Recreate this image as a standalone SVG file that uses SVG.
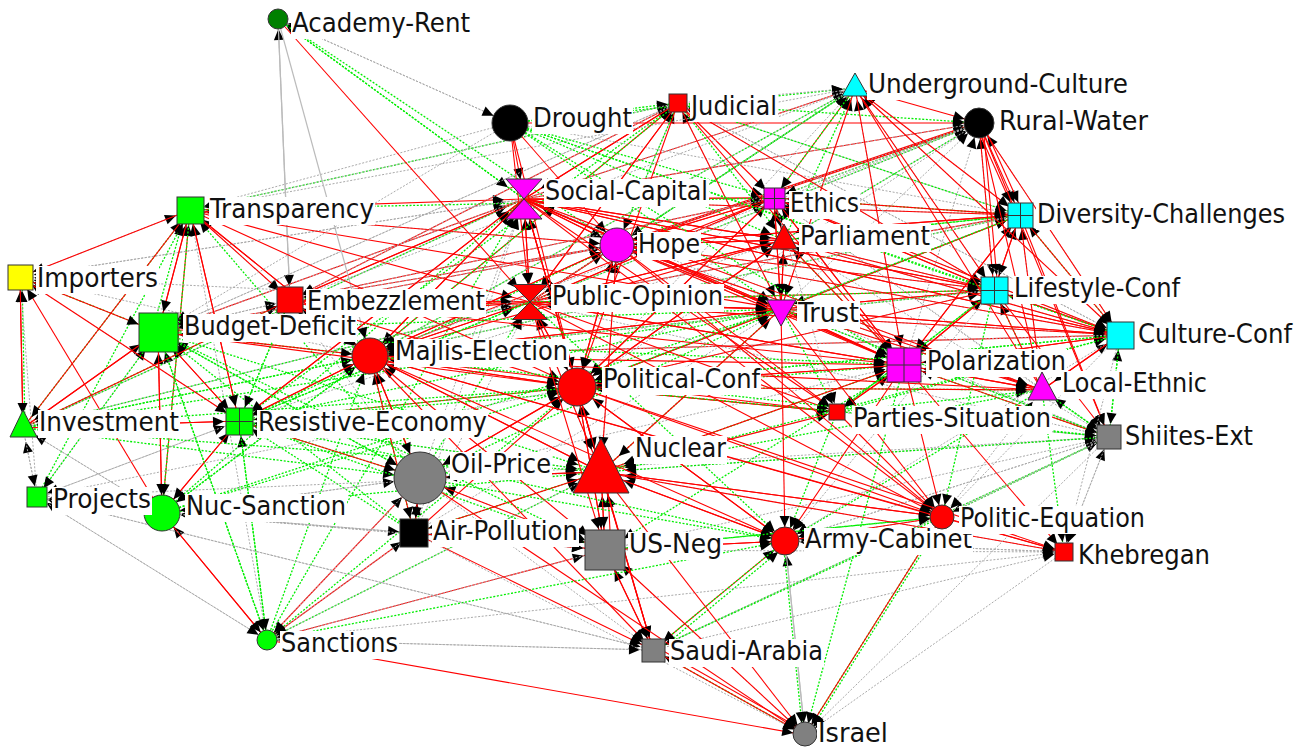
<svg xmlns="http://www.w3.org/2000/svg" width="1302" height="749" viewBox="0 0 1302 749">
<style>
.r{stroke:#f00;stroke-width:1.1;fill:none}
.g{stroke:#0e0;stroke-width:1.3;stroke-dasharray:2 1.6;fill:none}
.y{stroke:#aaa;stroke-width:1;stroke-dasharray:2 1.6;fill:none}
.s{stroke:#bbb;stroke-width:1.2;fill:none}
.n{stroke:#333;stroke-width:1}
.gl{stroke:#333;stroke-width:1;fill:none}
.lb{fill:#fff}
text{font-family:"DejaVu Sans Condensed","DejaVu Sans",sans-serif;font-size:27px;fill:#111}
marker path{fill:#000;stroke:none}
</style>
<defs>
<marker id="m9" markerUnits="userSpaceOnUse" orient="auto" overflow="visible" markerWidth="1" markerHeight="1"><path d="M-9 0l-11-5v10z"/></marker>
<marker id="m10" markerUnits="userSpaceOnUse" orient="auto" overflow="visible" markerWidth="1" markerHeight="1"><path d="M-10 0l-11-5v10z"/></marker>
<marker id="m11" markerUnits="userSpaceOnUse" orient="auto" overflow="visible" markerWidth="1" markerHeight="1"><path d="M-11 0l-11-5v10z"/></marker>
<marker id="m12" markerUnits="userSpaceOnUse" orient="auto" overflow="visible" markerWidth="1" markerHeight="1"><path d="M-12 0l-11-5v10z"/></marker>
<marker id="m13" markerUnits="userSpaceOnUse" orient="auto" overflow="visible" markerWidth="1" markerHeight="1"><path d="M-13 0l-11-5v10z"/></marker>
<marker id="m14" markerUnits="userSpaceOnUse" orient="auto" overflow="visible" markerWidth="1" markerHeight="1"><path d="M-14 0l-11-5v10z"/></marker>
<marker id="m15" markerUnits="userSpaceOnUse" orient="auto" overflow="visible" markerWidth="1" markerHeight="1"><path d="M-15 0l-11-5v10z"/></marker>
<marker id="m17" markerUnits="userSpaceOnUse" orient="auto" overflow="visible" markerWidth="1" markerHeight="1"><path d="M-17 0l-11-5v10z"/></marker>
<marker id="m18" markerUnits="userSpaceOnUse" orient="auto" overflow="visible" markerWidth="1" markerHeight="1"><path d="M-18 0l-11-5v10z"/></marker>
<marker id="m19" markerUnits="userSpaceOnUse" orient="auto" overflow="visible" markerWidth="1" markerHeight="1"><path d="M-19 0l-11-5v10z"/></marker>
<marker id="m20" markerUnits="userSpaceOnUse" orient="auto" overflow="visible" markerWidth="1" markerHeight="1"><path d="M-20 0l-11-5v10z"/></marker>
<marker id="m21" markerUnits="userSpaceOnUse" orient="auto" overflow="visible" markerWidth="1" markerHeight="1"><path d="M-21 0l-11-5v10z"/></marker>
<marker id="m22" markerUnits="userSpaceOnUse" orient="auto" overflow="visible" markerWidth="1" markerHeight="1"><path d="M-22 0l-11-5v10z"/></marker>
<marker id="m24" markerUnits="userSpaceOnUse" orient="auto" overflow="visible" markerWidth="1" markerHeight="1"><path d="M-24 0l-11-5v10z"/></marker>
<marker id="m26" markerUnits="userSpaceOnUse" orient="auto" overflow="visible" markerWidth="1" markerHeight="1"><path d="M-26 0l-11-5v10z"/></marker>
</defs>
<rect width="1302" height="749" fill="#fff"/>
<g id="connectors">
<g style="marker-end:url(#m10)">
<path class="y" d="M510 123 278 19"/><path class="g" d="M524 199 278 19"/><path class="s" d="M290 300 278 19"/><path class="g" d="M617 245 278 19"/>
</g>
<g style="marker-end:url(#m18)">
<path class="y" d="M278 19 510 123"/>
</g>
<g style="marker-end:url(#m10)">
<path class="r" d="M524 199 678 103"/><path class="r" d="M370 356 678 103"/><path class="r" d="M290 300 678 103"/><path class="g" d="M190 210 678 103"/><path class="g" d="M510 123 678 103"/><path class="r" d="M530 302 678 103"/><path class="y" d="M158 332 678 103"/><path class="g" d="M239 421 678 103"/><path class="y" d="M617 245 678 103"/><path class="y" d="M1020 215 678 103"/><path class="y" d="M994 290 678 103"/><path class="y" d="M1120 335 678 103"/><path class="y" d="M781 309 678 103"/>
</g>
<g style="marker-end:url(#m12)">
<path class="r" d="M524 199 855 88"/><path class="r" d="M774 198 855 88"/><path class="g" d="M617 245 855 88"/><path class="g" d="M510 123 855 88"/><path class="y" d="M678 103 855 88"/><path class="g" d="M530 302 855 88"/><path class="y" d="M781 309 855 88"/><path class="g" d="M784 240 855 88"/><path class="g" d="M370 356 855 88"/><path class="y" d="M577 387 855 88"/><path class="y" d="M1020 215 855 88"/><path class="y" d="M994 290 855 88"/><path class="y" d="M1120 335 855 88"/><path class="y" d="M904 365 855 88"/>
</g>
<g style="marker-end:url(#m15)">
<path class="r" d="M510 123 979 123"/><path class="r" d="M855 88 979 123"/><path class="r" d="M617 245 979 123" style="stroke-width:2.5"/><path class="r" d="M524 199 979 123"/><path class="g" d="M774 198 979 123"/><path class="g" d="M784 240 979 123"/><path class="y" d="M781 309 979 123"/><path class="g" d="M530 302 979 123"/><path class="g" d="M678 103 979 123"/><path class="y" d="M994 290 979 123"/><path class="y" d="M1120 335 979 123"/><path class="y" d="M904 365 979 123"/><path class="y" d="M577 387 979 123"/>
</g>
<g style="marker-end:url(#m20)">
<path class="r" d="M510 123 524 199"/><path class="r" d="M678 103 524 199"/><path class="r" d="M190 210 524 199"/><path class="r" d="M290 300 524 199"/><path class="r" d="M370 356 524 199"/><path class="r" d="M158 332 524 199"/><path class="r" d="M239 421 524 199"/><path class="r" d="M577 387 524 199"/><path class="r" d="M530 302 524 199"/><path class="r" d="M617 245 524 199"/><path class="r" d="M781 309 524 199"/><path class="r" d="M774 198 524 199"/><path class="r" d="M784 240 524 199"/><path class="g" d="M23 428 524 199"/><path class="g" d="M278 19 524 199"/><path class="y" d="M20 277 524 199"/><path class="y" d="M420 478 524 199"/><path class="g" d="M162 513 524 199"/><path class="r" d="M994 290 524 199"/><path class="r" d="M904 365 524 199"/><path class="r" d="M1120 335 524 199"/><path class="y" d="M414 533 524 199"/><path class="g" d="M267 640 524 199"/><path class="y" d="M855 88 524 199"/><path class="y" d="M979 123 524 199"/><path class="y" d="M1020 215 524 199"/><path class="y" d="M1042 390 524 199"/><path class="y" d="M1109 437 524 199"/>
</g>
<g style="marker-end:url(#m15)">
<path class="r" d="M158 332 190 210"/><path class="r" d="M239 421 190 210"/><path class="g" d="M23 428 190 210"/><path class="r" d="M162 513 190 210"/><path class="y" d="M20 277 190 210"/><path class="g" d="M152 332 186 210"/><path class="y" d="M290 300 190 210"/><path class="y" d="M267 640 190 210"/><path class="g" d="M37 497 190 210"/><path class="r" d="M370 356 190 210"/><path class="g" d="M420 478 190 210"/><path class="y" d="M855 88 190 210"/><path class="y" d="M510 123 190 210"/><path class="y" d="M678 103 190 210"/><path class="y" d="M617 245 190 210"/>
</g>
<g style="marker-end:url(#m12)">
<path class="r" d="M524 199 774 198"/><path class="r" d="M617 245 774 198"/><path class="r" d="M784 240 774 198"/><path class="r" d="M781 309 774 198"/><path class="r" d="M530 302 774 198"/><path class="g" d="M510 123 774 198"/><path class="r" d="M678 103 774 198"/><path class="r" d="M904 365 774 198"/><path class="r" d="M994 290 774 198"/><path class="g" d="M1020 215 774 198"/><path class="g" d="M855 88 774 198"/><path class="r" d="M370 356 774 198"/><path class="r" d="M577 387 774 198"/><path class="r" d="M290 300 774 198"/><path class="g" d="M190 210 774 198"/><path class="y" d="M979 123 774 198"/><path class="y" d="M1120 335 774 198"/><path class="y" d="M1109 437 774 198"/><path class="y" d="M1042 390 774 198"/>
</g>
<g style="marker-end:url(#m13)">
<path class="r" d="M524 199 784 240"/><path class="r" d="M781 309 784 240"/><path class="r" d="M617 245 784 240"/><path class="r" d="M774 198 784 240"/><path class="r" d="M530 302 784 240"/><path class="g" d="M678 103 784 240"/><path class="g" d="M510 123 784 240"/><path class="r" d="M370 356 784 240"/><path class="g" d="M904 365 784 240"/><path class="g" d="M1020 215 784 240"/><path class="r" d="M577 387 784 240"/><path class="y" d="M239 421 784 240"/><path class="y" d="M979 123 784 240"/><path class="y" d="M1120 335 784 240"/><path class="y" d="M994 290 784 240"/><path class="y" d="M1109 437 784 240"/>
</g>
<g style="marker-end:url(#m17)">
<path class="r" d="M524 199 617 245"/><path class="r" d="M774 198 617 245"/><path class="r" d="M784 240 617 245"/><path class="r" d="M530 302 617 245"/><path class="r" d="M370 356 617 245"/><path class="r" d="M510 123 617 245"/><path class="r" d="M781 309 617 245"/><path class="r" d="M577 387 617 245"/><path class="r" d="M290 300 617 245"/><path class="g" d="M678 103 617 245"/><path class="g" d="M855 88 617 245"/><path class="r" d="M190 210 617 245"/><path class="y" d="M904 365 617 245"/><path class="y" d="M994 290 617 245"/><path class="r" d="M158 332 617 245"/><path class="g" d="M239 421 617 245"/><path class="r" d="M1020 215 617 245"/><path class="y" d="M601 472 617 245"/><path class="y" d="M979 123 617 245"/><path class="y" d="M1120 335 617 245"/><path class="y" d="M1109 437 617 245"/><path class="y" d="M1042 390 617 245"/>
</g>
<g style="marker-end:url(#m14)">
<path class="r" d="M855 88 1020 215"/><path class="r" d="M979 123 1020 215"/><path class="r" d="M975 123 1016 215"/><path class="r" d="M983 124 1024 215"/><path class="r" d="M524 199 1020 215"/><path class="r" d="M774 198 1020 215"/><path class="r" d="M617 245 1020 215"/><path class="r" d="M994 290 1020 215"/><path class="r" d="M904 365 1020 215"/><path class="g" d="M781 309 1020 215"/><path class="g" d="M678 103 1020 215"/><path class="g" d="M784 240 1020 215"/><path class="g" d="M1120 335 1020 215"/><path class="y" d="M1042 390 1020 215"/><path class="y" d="M510 123 1020 215"/><path class="r" d="M530 302 1020 215"/><path class="g" d="M370 356 1020 215"/><path class="y" d="M577 387 1020 215"/>
</g>
<g style="marker-end:url(#m14)">
<path class="r" d="M23 428 20 277"/><path class="g" d="M25 428 22 277"/><path class="r" d="M162 513 20 277"/><path class="g" d="M158 332 20 277"/><path class="y" d="M239 421 20 277"/><path class="y" d="M37 497 20 277"/><path class="r" d="M190 210 20 277"/><path class="y" d="M524 199 20 277"/><path class="y" d="M370 356 20 277"/><path class="y" d="M530 302 20 277"/>
</g>
<g style="marker-end:url(#m14)">
<path class="r" d="M190 210 290 300"/><path class="r" d="M370 356 290 300"/><path class="r" d="M524 199 290 300"/><path class="y" d="M158 332 290 300"/><path class="g" d="M239 421 290 300"/><path class="s" d="M278 19 290 300"/><path class="r" d="M530 302 290 300"/><path class="g" d="M23 428 290 300"/><path class="y" d="M420 478 290 300"/><path class="y" d="M678 103 290 300"/><path class="y" d="M855 88 290 300"/><path class="y" d="M617 245 290 300"/><path class="y" d="M774 198 290 300"/>
</g>
<g style="marker-end:url(#m18)">
<path class="r" d="M510 123 530 302"/><path class="r" d="M524 199 530 302"/><path class="r" d="M678 103 530 302"/><path class="r" d="M290 300 530 302"/><path class="r" d="M370 356 530 302"/><path class="r" d="M781 309 530 302"/><path class="r" d="M577 387 530 302"/><path class="r" d="M617 245 530 302"/><path class="r" d="M278 19 530 302"/><path class="r" d="M190 210 530 302"/><path class="r" d="M158 332 530 302"/><path class="g" d="M239 421 530 302"/><path class="r" d="M774 198 530 302"/><path class="r" d="M784 240 530 302"/><path class="g" d="M420 478 530 302"/><path class="y" d="M601 472 530 302"/><path class="r" d="M904 365 530 302"/><path class="g" d="M23 428 530 302"/><path class="r" d="M994 290 530 302"/><path class="y" d="M414 533 530 302"/><path class="y" d="M855 88 530 302"/><path class="y" d="M979 123 530 302"/><path class="y" d="M1020 215 530 302"/><path class="y" d="M1120 335 530 302"/><path class="y" d="M1109 437 530 302"/>
</g>
<g style="marker-end:url(#m14)">
<path class="r" d="M524 199 781 309"/><path class="r" d="M678 103 781 309"/><path class="r" d="M617 245 781 309"/><path class="r" d="M774 198 781 309"/><path class="r" d="M784 240 781 309"/><path class="r" d="M530 302 781 309"/><path class="r" d="M577 387 781 309"/><path class="r" d="M370 356 781 309"/><path class="r" d="M855 88 781 309"/><path class="r" d="M904 365 781 309"/><path class="r" d="M994 290 781 309"/><path class="r" d="M1120 335 781 309"/><path class="r" d="M1020 215 781 309"/><path class="g" d="M510 123 781 309"/><path class="g" d="M239 421 781 309"/><path class="g" d="M158 332 781 309"/><path class="g" d="M420 478 781 309"/><path class="r" d="M290 300 781 309"/><path class="r" d="M190 210 781 309"/><path class="y" d="M1042 390 781 309"/><path class="y" d="M1109 437 781 309"/><path class="g" d="M23 428 781 309"/><path class="g" d="M601 472 781 309"/><path class="g" d="M162 513 781 309"/><path class="y" d="M414 533 781 309"/>
</g>
<g style="marker-end:url(#m15)">
<path class="r" d="M855 88 994 290"/><path class="r" d="M979 123 994 290"/><path class="r" d="M983 124 998 290"/><path class="r" d="M1020 215 994 290"/><path class="r" d="M524 199 994 290"/><path class="r" d="M774 198 994 290"/><path class="r" d="M617 245 994 290"/><path class="r" d="M904 365 994 290"/><path class="r" d="M781 309 994 290"/><path class="r" d="M1120 335 994 290"/><path class="r" d="M784 240 994 290"/><path class="r" d="M678 103 994 290"/><path class="g" d="M1042 390 994 290"/><path class="g" d="M510 123 994 290"/><path class="g" d="M530 302 994 290"/><path class="g" d="M370 356 994 290"/><path class="y" d="M577 387 994 290"/><path class="g" d="M837 412 994 290"/>
</g>
<g style="marker-end:url(#m21)">
<path class="r" d="M190 210 158 332"/><path class="r" d="M23 428 158 332"/><path class="r" d="M239 421 158 332"/><path class="r" d="M162 513 158 332"/><path class="r" d="M20 277 158 332"/><path class="y" d="M290 300 158 332"/><path class="g" d="M370 356 158 332"/><path class="g" d="M420 478 158 332"/><path class="y" d="M37 497 158 332"/><path class="g" d="M267 640 158 332"/><path class="g" d="M414 533 158 332"/><path class="y" d="M510 123 158 332"/><path class="y" d="M678 103 158 332"/><path class="y" d="M524 199 158 332"/><path class="y" d="M617 245 158 332"/>
</g>
<g style="marker-end:url(#m15)">
<path class="r" d="M855 88 1120 335"/><path class="r" d="M979 123 1120 335"/><path class="r" d="M1020 215 1120 335"/><path class="r" d="M994 290 1120 335"/><path class="r" d="M524 199 1120 335"/><path class="r" d="M774 198 1120 335"/><path class="r" d="M617 245 1120 335"/><path class="r" d="M784 240 1120 335"/><path class="r" d="M781 309 1120 335"/><path class="r" d="M904 365 1120 335"/><path class="r" d="M1042 390 1120 335"/><path class="g" d="M1109 437 1120 335"/><path class="r" d="M530 302 1120 335"/><path class="r" d="M370 356 1120 335"/><path class="g" d="M510 123 1120 335"/><path class="y" d="M678 103 1120 335"/><path class="g" d="M577 387 1120 335"/><path class="g" d="M837 412 1120 335"/>
</g>
<g style="marker-end:url(#m18)">
<path class="r" d="M524 199 370 356"/><path class="r" d="M530 302 370 356"/><path class="r" d="M577 387 370 356"/><path class="r" d="M290 300 370 356"/><path class="r" d="M239 421 370 356"/><path class="r" d="M158 332 370 356"/><path class="r" d="M190 210 370 356"/><path class="r" d="M420 478 370 356"/><path class="g" d="M414 533 370 356"/><path class="g" d="M162 513 370 356"/><path class="s" d="M278 19 370 356"/><path class="g" d="M23 428 370 356"/><path class="g" d="M267 640 370 356"/><path class="r" d="M617 245 370 356"/><path class="r" d="M781 309 370 356"/><path class="r" d="M601 472 370 356"/><path class="y" d="M605 550 370 356"/><path class="g" d="M678 103 370 356"/><path class="y" d="M855 88 370 356"/><path class="y" d="M979 123 370 356"/><path class="y" d="M1020 215 370 356"/><path class="y" d="M994 290 370 356"/><path class="y" d="M1120 335 370 356"/>
</g>
<g style="marker-end:url(#m19)">
<path class="r" d="M524 199 904 365"/><path class="r" d="M617 245 904 365"/><path class="r" d="M774 198 904 365"/><path class="r" d="M784 240 904 365"/><path class="r" d="M781 309 904 365"/><path class="r" d="M1020 215 904 365"/><path class="r" d="M994 290 904 365"/><path class="r" d="M1120 335 904 365"/><path class="r" d="M855 88 904 365"/><path class="r" d="M678 103 904 365"/><path class="r" d="M577 387 904 365"/><path class="r" d="M370 356 904 365"/><path class="r" d="M530 302 904 365"/><path class="r" d="M1042 390 904 365"/><path class="r" d="M837 412 904 365"/><path class="g" d="M510 123 904 365"/><path class="g" d="M239 421 904 365"/><path class="g" d="M601 472 904 365"/><path class="g" d="M1109 437 904 365"/><path class="y" d="M420 478 904 365"/><path class="g" d="M158 332 904 365"/><path class="r" d="M290 300 904 365"/>
</g>
<g style="marker-end:url(#m19)">
<path class="r" d="M370 356 577 387"/><path class="r" d="M530 302 577 387"/><path class="r" d="M524 199 577 387"/><path class="r" d="M617 245 577 387"/><path class="r" d="M781 309 577 387"/><path class="r" d="M904 365 577 387"/><path class="r" d="M601 472 577 387"/><path class="r" d="M605 550 577 387"/><path class="r" d="M420 478 577 387"/><path class="r" d="M239 421 577 387"/><path class="r" d="M158 332 577 387"/><path class="r" d="M290 300 577 387"/><path class="r" d="M414 533 577 387"/><path class="r" d="M190 210 577 387"/><path class="r" d="M774 198 577 387"/><path class="r" d="M784 240 577 387"/><path class="r" d="M785 541 577 387"/><path class="r" d="M837 412 577 387"/><path class="g" d="M267 640 577 387"/><path class="g" d="M162 513 577 387"/><path class="g" d="M23 428 577 387"/><path class="y" d="M37 497 577 387"/><path class="g" d="M1042 390 577 387"/><path class="g" d="M1120 335 577 387"/><path class="r" d="M678 103 577 387"/><path class="r" d="M510 123 577 387"/><path class="g" d="M1020 215 577 387"/><path class="r" d="M994 290 577 387"/>
</g>
<g style="marker-end:url(#m15)">
<path class="r" d="M904 365 1042 390"/><path class="r" d="M979 123 1042 390"/><path class="r" d="M1020 215 1042 390"/><path class="r" d="M994 290 1042 390"/><path class="r" d="M1120 335 1042 390"/><path class="r" d="M855 88 1042 390"/><path class="r" d="M577 387 1042 390"/><path class="r" d="M781 309 1042 390"/><path class="r" d="M524 199 1042 390"/><path class="g" d="M1109 437 1042 390"/><path class="g" d="M837 412 1042 390"/><path class="r" d="M617 245 1042 390"/><path class="r" d="M370 356 1042 390"/><path class="y" d="M942 517 1042 390"/>
</g>
<g style="marker-end:url(#m14)">
<path class="r" d="M20 277 23 428"/><path class="r" d="M158 332 23 428"/><path class="r" d="M190 210 23 428"/><path class="r" d="M239 421 23 428"/><path class="y" d="M37 497 23 428"/><path class="y" d="M162 513 23 428"/><path class="r" d="M290 300 23 428"/><path class="g" d="M370 356 23 428"/><path class="y" d="M524 199 23 428"/><path class="y" d="M530 302 23 428"/>
</g>
<g style="marker-end:url(#m15)">
<path class="r" d="M23 428 239 421"/><path class="r" d="M190 210 239 421"/><path class="r" d="M158 332 239 421"/><path class="r" d="M20 277 239 421"/><path class="r" d="M162 513 239 421"/><path class="r" d="M370 356 239 421"/><path class="g" d="M420 478 239 421"/><path class="g" d="M267 640 239 421"/><path class="y" d="M37 497 239 421"/><path class="g" d="M414 533 239 421"/><path class="g" d="M290 300 239 421"/><path class="g" d="M577 387 239 421"/><path class="y" d="M601 472 239 421"/><path class="r" d="M524 199 239 421"/><path class="g" d="M530 302 239 421"/>
</g>
<g style="marker-end:url(#m9)">
<path class="r" d="M577 387 837 412"/><path class="r" d="M904 365 837 412"/><path class="r" d="M370 356 837 412"/><path class="r" d="M524 199 837 412"/><path class="g" d="M781 309 837 412"/><path class="y" d="M601 472 837 412"/><path class="r" d="M617 245 837 412"/><path class="y" d="M774 198 837 412"/><path class="r" d="M530 302 837 412"/><path class="g" d="M994 290 837 412"/>
</g>
<g style="marker-end:url(#m13)">
<path class="g" d="M1042 390 1109 437"/><path class="g" d="M1120 335 1109 437"/><path class="r" d="M994 290 1109 437"/><path class="r" d="M1020 215 1109 437"/><path class="r" d="M904 365 1109 437"/><path class="r" d="M979 123 1109 437"/><path class="g" d="M942 517 1109 437"/><path class="y" d="M601 472 1109 437"/><path class="y" d="M785 541 1109 437"/><path class="y" d="M605 550 1109 437"/><path class="y" d="M837 412 1109 437"/><path class="g" d="M653 650 1109 437"/><path class="y" d="M1064 552 1109 437"/><path class="g" d="M577 387 1109 437"/><path class="g" d="M781 309 1109 437"/><path class="y" d="M420 478 1109 437"/><path class="g" d="M370 356 1109 437"/>
</g>
<g style="marker-end:url(#m24)">
<path class="r" d="M577 387 601 472"/><path class="r" d="M530 302 601 472"/><path class="r" d="M370 356 601 472"/><path class="r" d="M420 478 601 472"/><path class="r" d="M605 550 601 472"/><path class="r" d="M611 550 607 472"/><path class="r" d="M653 650 601 472"/><path class="r" d="M785 541 601 472"/><path class="r" d="M904 365 601 472"/><path class="r" d="M781 309 601 472"/><path class="r" d="M524 199 601 472"/><path class="r" d="M617 245 601 472"/><path class="g" d="M239 421 601 472"/><path class="g" d="M414 533 601 472"/><path class="g" d="M267 640 601 472"/><path class="g" d="M158 332 601 472"/><path class="r" d="M837 412 601 472"/><path class="r" d="M942 517 601 472"/><path class="g" d="M23 428 601 472"/><path class="g" d="M162 513 601 472"/><path class="y" d="M37 497 601 472"/><path class="g" d="M1042 390 601 472"/><path class="g" d="M1109 437 601 472"/><path class="g" d="M1120 335 601 472"/><path class="y" d="M1064 552 601 472"/>
</g>
<g style="marker-end:url(#m26)">
<path class="r" d="M414 533 420 478"/><path class="r" d="M239 421 420 478"/><path class="r" d="M267 640 420 478"/><path class="r" d="M601 472 420 478"/><path class="y" d="M605 550 420 478"/><path class="r" d="M370 356 420 478"/><path class="g" d="M158 332 420 478"/><path class="y" d="M162 513 420 478"/><path class="g" d="M23 428 420 478"/><path class="r" d="M577 387 420 478"/>
</g>
<g style="marker-end:url(#m11)">
<path class="y" d="M23 428 37 497"/><path class="y" d="M239 421 37 497"/><path class="g" d="M158 332 37 497"/><path class="y" d="M267 640 37 497"/><path class="y" d="M162 513 37 497"/><path class="y" d="M653 650 37 497"/>
</g>
<g style="marker-end:url(#m18)">
<path class="r" d="M267 640 162 513"/><path class="r" d="M239 421 162 513"/><path class="r" d="M158 332 162 513"/><path class="g" d="M190 210 162 513"/><path class="y" d="M37 497 162 513"/><path class="y" d="M23 428 162 513"/><path class="g" d="M370 356 162 513"/><path class="y" d="M420 478 162 513"/><path class="y" d="M414 533 162 513"/><path class="y" d="M605 550 162 513"/>
</g>
<g style="marker-end:url(#m15)">
<path class="r" d="M420 478 414 533"/><path class="r" d="M267 640 414 533"/><path class="r" d="M601 472 414 533"/><path class="r" d="M605 550 414 533"/><path class="r" d="M370 356 414 533"/><path class="y" d="M162 513 414 533"/>
</g>
<g style="marker-end:url(#m22)">
<path class="r" d="M601 472 605 550"/><path class="r" d="M577 387 605 550"/><path class="r" d="M653 650 605 550"/><path class="r" d="M370 356 605 550"/><path class="r" d="M267 640 605 550"/><path class="r" d="M420 478 605 550"/><path class="r" d="M414 533 605 550"/><path class="r" d="M785 541 605 550"/><path class="r" d="M530 302 605 550"/><path class="y" d="M805 735 605 550"/><path class="g" d="M942 517 605 550"/><path class="g" d="M239 421 605 550"/><path class="g" d="M158 332 605 550"/><path class="y" d="M162 513 605 550"/><path class="g" d="M904 365 605 550"/>
</g>
<g style="marker-end:url(#m14)">
<path class="r" d="M781 309 785 541"/><path class="r" d="M577 387 785 541"/><path class="r" d="M601 472 785 541"/><path class="r" d="M605 550 785 541"/><path class="r" d="M370 356 785 541"/><path class="s" d="M805 735 785 541"/><path class="r" d="M653 650 785 541"/><path class="g" d="M657 652 789 543"/><path class="r" d="M904 365 785 541"/><path class="y" d="M942 517 785 541"/><path class="g" d="M267 640 785 541"/><path class="g" d="M837 412 785 541"/><path class="g" d="M420 478 785 541"/><path class="g" d="M239 421 785 541"/><path class="g" d="M530 302 785 541"/><path class="y" d="M1064 552 785 541"/><path class="g" d="M1042 390 785 541"/><path class="y" d="M1109 437 785 541"/><path class="y" d="M1120 335 785 541"/><path class="y" d="M994 290 785 541"/>
</g>
<g style="marker-end:url(#m12)">
<path class="r" d="M577 387 942 517"/><path class="r" d="M601 472 942 517"/><path class="r" d="M904 365 942 517"/><path class="r" d="M370 356 942 517"/><path class="r" d="M837 412 942 517"/><path class="r" d="M785 541 942 517"/><path class="r" d="M524 199 942 517"/><path class="g" d="M605 550 942 517"/><path class="y" d="M1109 437 942 517"/><path class="r" d="M781 309 942 517"/><path class="g" d="M805 735 942 517"/><path class="r" d="M530 302 942 517"/><path class="g" d="M994 290 942 517"/><path class="y" d="M1120 335 942 517"/><path class="r" d="M617 245 942 517"/>
</g>
<g style="marker-end:url(#m10)">
<path class="r" d="M942 517 1064 552"/><path class="r" d="M577 387 1064 552"/><path class="r" d="M601 472 1064 552"/><path class="r" d="M904 365 1064 552"/><path class="y" d="M785 541 1064 552"/><path class="y" d="M605 550 1064 552"/><path class="y" d="M653 650 1064 552"/><path class="y" d="M267 640 1064 552"/><path class="y" d="M1109 437 1064 552"/><path class="r" d="M370 356 1064 552"/><path class="g" d="M1042 390 1064 552"/><path class="y" d="M1120 335 1064 552"/>
</g>
<g style="marker-end:url(#m10)">
<path class="r" d="M162 513 267 640"/><path class="y" d="M420 478 267 640"/><path class="y" d="M414 533 267 640"/><path class="g" d="M239 421 267 640"/><path class="g" d="M158 332 267 640"/><path class="y" d="M37 497 267 640"/><path class="y" d="M605 550 267 640"/><path class="y" d="M653 650 267 640"/><path class="y" d="M601 472 267 640"/>
</g>
<g style="marker-end:url(#m13)">
<path class="r" d="M605 550 653 650"/><path class="r" d="M601 472 653 650"/><path class="r" d="M577 387 653 650"/><path class="r" d="M414 533 653 650"/><path class="y" d="M267 640 653 650"/><path class="y" d="M37 497 653 650"/><path class="y" d="M420 478 653 650"/><path class="g" d="M785 541 653 650"/><path class="g" d="M805 735 653 650"/><path class="r" d="M370 356 653 650"/><path class="g" d="M942 517 653 650"/><path class="y" d="M1109 437 653 650"/>
</g>
<g style="marker-end:url(#m12)">
<path class="r" d="M267 640 805 735"/><path class="r" d="M653 650 805 735"/><path class="r" d="M658 648 808 733"/><path class="r" d="M601 472 805 735"/><path class="r" d="M605 550 805 735"/><path class="s" d="M785 541 805 735"/><path class="r" d="M942 517 805 735"/><path class="g" d="M944 518 807 736"/><path class="y" d="M414 533 805 735"/><path class="r" d="M420 478 805 735"/><path class="y" d="M1064 552 805 735"/><path class="g" d="M783 541 803 735"/><path class="g" d="M904 365 805 735"/><path class="y" d="M1109 437 805 735"/>
</g>
</g>
<g id="nodes">
<g id="n-academy-rent"><circle class="n" cx="278" cy="19" r="10" fill="#008000"/><rect class="lb" x="291" y="11" width="180" height="28"/><text x="292" y="32" textLength="178" lengthAdjust="spacingAndGlyphs">Academy-Rent</text></g>
<g id="n-drought"><circle class="n" cx="510" cy="123" r="18" fill="#000"/><rect class="lb" x="532" y="106" width="101" height="28"/><text x="533" y="127" textLength="99" lengthAdjust="spacingAndGlyphs">Drought</text></g>
<g id="n-judicial"><rect class="n" x="669" y="94" width="18" height="18" fill="#f00"/><rect class="lb" x="690" y="94" width="88" height="28"/><text x="691" y="115" textLength="86" lengthAdjust="spacingAndGlyphs">Judicial</text></g>
<g id="n-underground-culture"><polygon class="n" points="855,73 842,96 868,96" fill="#0ff"/><rect class="lb" x="867" y="72" width="262" height="28"/><text x="868" y="93" textLength="260" lengthAdjust="spacingAndGlyphs">Underground-Culture</text></g>
<g id="n-rural-water"><circle class="n" cx="979" cy="123" r="15" fill="#000"/><rect class="lb" x="998" y="109" width="151" height="28"/><text x="999" y="130" textLength="149" lengthAdjust="spacingAndGlyphs">Rural-Water</text></g>
<g id="n-social-capital"><path class="n" d="M506 179H542L506 219H542Z" fill="#f0f"/><rect class="lb" x="544" y="179" width="165" height="28"/><text x="545" y="200" textLength="163" lengthAdjust="spacingAndGlyphs">Social-Capital</text></g>
<g id="n-transparency"><rect class="n" x="177" y="197" width="27" height="27" fill="#0f0"/><rect class="lb" x="209" y="197" width="166" height="28"/><text x="210" y="218" textLength="164" lengthAdjust="spacingAndGlyphs">Transparency</text></g>
<g id="n-ethics"><rect class="n" x="764" y="188" width="21" height="21" fill="#f0f"/><path class="gl" d="M774.5 188V209M764 198.5H785"/><rect class="lb" x="789" y="191" width="71" height="28"/><text x="790" y="212" textLength="69" lengthAdjust="spacingAndGlyphs">Ethics</text></g>
<g id="n-parliament"><polygon class="n" points="784,224 771,249 797,249" fill="#f00"/><rect class="lb" x="799" y="224" width="132" height="28"/><text x="800" y="245" textLength="130" lengthAdjust="spacingAndGlyphs">Parliament</text></g>
<g id="n-hope"><circle class="n" cx="617" cy="245" r="17" fill="#f0f"/><rect class="lb" x="637" y="232" width="64" height="28"/><text x="638" y="253" textLength="62" lengthAdjust="spacingAndGlyphs">Hope</text></g>
<g id="n-diversity-challenges"><rect class="n" x="1008" y="203" width="25" height="25" fill="#0ff"/><path class="gl" d="M1020.5 203V228M1008 215.5H1033"/><rect class="lb" x="1036" y="202" width="250" height="28"/><text x="1037" y="223" textLength="248" lengthAdjust="spacingAndGlyphs">Diversity-Challenges</text></g>
<g id="n-importers"><rect class="n" x="8" y="265" width="25" height="25" fill="#ff0"/><rect class="lb" x="36" y="266" width="123" height="28"/><text x="37" y="287" textLength="121" lengthAdjust="spacingAndGlyphs">Importers</text></g>
<g id="n-embezzlement"><rect class="n" x="277" y="287" width="26" height="26" fill="#f00"/><rect class="lb" x="306" y="289" width="180" height="28"/><text x="307" y="310" textLength="178" lengthAdjust="spacingAndGlyphs">Embezzlement</text></g>
<g id="n-public-opinion"><path class="n" d="M512.5 284.5H547.5L512.5 319.5H547.5Z" fill="#f00"/><rect class="lb" x="551" y="284" width="173" height="28"/><text x="552" y="305" textLength="171" lengthAdjust="spacingAndGlyphs">Public-Opinion</text></g>
<g id="n-trust"><polygon class="n" points="767,300 796,300 781,326" fill="#f0f"/><rect class="lb" x="797" y="301" width="63" height="28"/><text x="798" y="322" textLength="61" lengthAdjust="spacingAndGlyphs">Trust</text></g>
<g id="n-lifestyle-conf"><rect class="n" x="981" y="277" width="27" height="27" fill="#0ff"/><path class="gl" d="M994.5 277V304M981 290.5H1008"/><rect class="lb" x="1013" y="276" width="168" height="28"/><text x="1014" y="297" textLength="166" lengthAdjust="spacingAndGlyphs">Lifestyle-Conf</text></g>
<g id="n-budget-deficit"><rect class="n" x="139" y="313" width="39" height="39" fill="#0f0"/><rect class="lb" x="183" y="314" width="174" height="28"/><text x="184" y="335" textLength="172" lengthAdjust="spacingAndGlyphs">Budget-Deficit</text></g>
<g id="n-culture-conf"><rect class="n" x="1107" y="322" width="27" height="27" fill="#0ff"/><rect class="lb" x="1137" y="322" width="156" height="28"/><text x="1138" y="343" textLength="154" lengthAdjust="spacingAndGlyphs">Culture-Conf</text></g>
<g id="n-majlis-election"><circle class="n" cx="370" cy="356" r="18" fill="#f00"/><rect class="lb" x="394" y="339" width="175" height="28"/><text x="395" y="360" textLength="173" lengthAdjust="spacingAndGlyphs">Majlis-Election</text></g>
<g id="n-polarization"><rect class="n" x="887" y="348" width="34" height="34" fill="#f0f"/><path class="gl" d="M904 348V382M887 365H921"/><rect class="lb" x="926" y="349" width="141" height="28"/><text x="927" y="370" textLength="139" lengthAdjust="spacingAndGlyphs">Polarization</text></g>
<g id="n-political-conf"><circle class="n" cx="577" cy="387" r="19" fill="#f00"/><rect class="lb" x="602" y="367" width="159" height="28"/><text x="603" y="388" textLength="157" lengthAdjust="spacingAndGlyphs">Political-Conf</text></g>
<g id="n-local-ethnic"><polygon class="n" points="1042,372 1028,400 1057,400" fill="#f0f"/><rect class="lb" x="1061" y="371" width="147" height="28"/><text x="1062" y="392" textLength="145" lengthAdjust="spacingAndGlyphs">Local-Ethnic</text></g>
<g id="n-investment"><polygon class="n" points="23,410 10,437 37,437" fill="#0f0"/><rect class="lb" x="38" y="410" width="142" height="28"/><text x="39" y="431" textLength="140" lengthAdjust="spacingAndGlyphs">Investment</text></g>
<g id="n-resistive-economy"><rect class="n" x="226" y="408" width="27" height="27" fill="#0f0"/><path class="gl" d="M239.5 408V435M226 421.5H253"/><rect class="lb" x="257" y="410" width="231" height="28"/><text x="258" y="431" textLength="229" lengthAdjust="spacingAndGlyphs">Resistive-Economy</text></g>
<g id="n-parties-situation"><rect class="n" x="829" y="404" width="16" height="16" fill="#f00"/><rect class="lb" x="852" y="406" width="200" height="28"/><text x="853" y="427" textLength="198" lengthAdjust="spacingAndGlyphs">Parties-Situation</text></g>
<g id="n-shiites-ext"><rect class="n" x="1097" y="425" width="24" height="24" fill="#808080"/><rect class="lb" x="1124" y="424" width="130" height="28"/><text x="1125" y="445" textLength="128" lengthAdjust="spacingAndGlyphs">Shiites-Ext</text></g>
<g id="n-nuclear"><polygon class="n" points="601,438 573,493 629,493" fill="#f00"/><rect class="lb" x="634" y="436" width="93" height="28"/><text x="635" y="457" textLength="91" lengthAdjust="spacingAndGlyphs">Nuclear</text></g>
<g id="n-oil-price"><circle class="n" cx="420" cy="478" r="26" fill="#808080"/><rect class="lb" x="450" y="452" width="102" height="28"/><text x="451" y="473" textLength="100" lengthAdjust="spacingAndGlyphs">Oil-Price</text></g>
<g id="n-nuc-sanction"><circle class="n" cx="162" cy="513" r="18" fill="#0f0"/><rect class="lb" x="185" y="494" width="162" height="28"/><text x="186" y="515" textLength="160" lengthAdjust="spacingAndGlyphs">Nuc-Sanction</text></g>
<g id="n-projects"><rect class="n" x="27" y="487" width="20" height="20" fill="#0f0"/><rect class="lb" x="52" y="487" width="100" height="28"/><text x="53" y="508" textLength="98" lengthAdjust="spacingAndGlyphs">Projects</text></g>
<g id="n-air-pollution"><rect class="n" x="400" y="519" width="28" height="28" fill="#000"/><rect class="lb" x="432" y="519" width="147" height="28"/><text x="433" y="540" textLength="145" lengthAdjust="spacingAndGlyphs">Air-Pollution</text></g>
<g id="n-us-neg"><rect class="n" x="585" y="530" width="40" height="40" fill="#808080"/><rect class="lb" x="628" y="532" width="95" height="28"/><text x="629" y="553" textLength="93" lengthAdjust="spacingAndGlyphs">US-Neg</text></g>
<g id="n-army-cabinet"><circle class="n" cx="785" cy="541" r="14" fill="#f00"/><rect class="lb" x="804" y="528" width="169" height="27"/><text x="805" y="548" textLength="167" lengthAdjust="spacingAndGlyphs">Army-Cabinet</text></g>
<g id="n-politic-equation"><circle class="n" cx="942" cy="517" r="12" fill="#f00"/><rect class="lb" x="959" y="506" width="187" height="28"/><text x="960" y="527" textLength="185" lengthAdjust="spacingAndGlyphs">Politic-Equation</text></g>
<g id="n-khebregan"><rect class="n" x="1055" y="543" width="18" height="18" fill="#f00"/><rect class="lb" x="1077" y="543" width="134" height="28"/><text x="1078" y="564" textLength="132" lengthAdjust="spacingAndGlyphs">Khebregan</text></g>
<g id="n-sanctions"><circle class="n" cx="267" cy="640" r="10" fill="#0f0"/><rect class="lb" x="280" y="631" width="119" height="28"/><text x="281" y="652" textLength="117" lengthAdjust="spacingAndGlyphs">Sanctions</text></g>
<g id="n-saudi-arabia"><rect class="n" x="642" y="639" width="23" height="23" fill="#808080"/><rect class="lb" x="669" y="639" width="155" height="28"/><text x="670" y="660" textLength="153" lengthAdjust="spacingAndGlyphs">Saudi-Arabia</text></g>
<g id="n-israel"><circle class="n" cx="805" cy="734" r="12" fill="#808080"/><rect class="lb" x="817" y="722" width="72" height="27"/><text x="818" y="742" textLength="70" lengthAdjust="spacingAndGlyphs">Israel</text></g>
</g>
</svg>
